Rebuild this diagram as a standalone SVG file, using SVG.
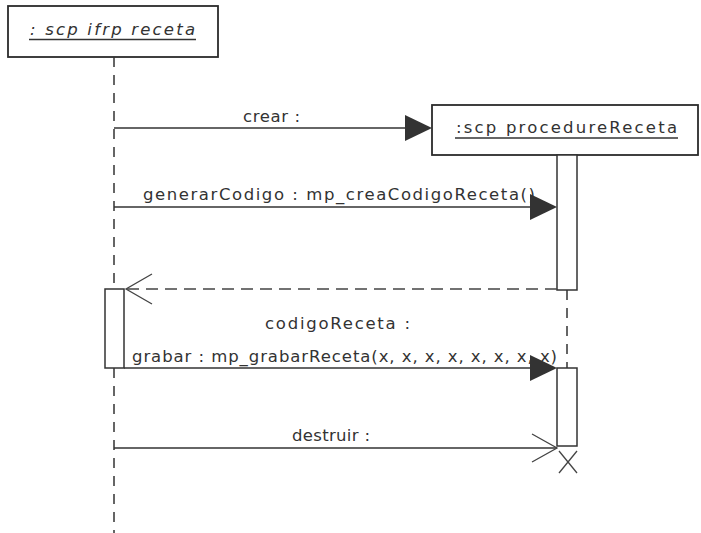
<svg xmlns="http://www.w3.org/2000/svg" width="701" height="533" viewBox="0 0 701 533">
<style>
.box{fill:#fff;stroke:#2b2b2b;stroke-width:1.8}
.act{fill:#fff;stroke:#333;stroke-width:1.5}
.life{stroke:#333;stroke-width:1.5;stroke-dasharray:10 8;fill:none}
.msg{stroke:#333;stroke-width:1.5;fill:none}
.ret{stroke:#444;stroke-width:1.5;stroke-dasharray:12 7;fill:none}
.open{stroke:#444;stroke-width:1.3;fill:none}
.head{fill:#333;stroke:none}
.t{font-family:"DejaVu Sans","Liberation Sans",Arial,sans-serif;font-size:16.5px;fill:#333}
.ul{stroke:#333;stroke-width:1.3}
</style>
<rect width="701" height="533" fill="#fff"/>
<g id="node-ifrp">
<rect class="box" x="8" y="6" width="210" height="51"/>
<text class="t" x="30" y="35" font-style="italic" textLength="165" lengthAdjust="spacing">: scp  ifrp  receta</text>
<line class="ul" x1="29" y1="39.5" x2="196" y2="39.5"/>
</g>
<g id="node-procedure">
<rect class="box" x="432" y="105" width="266" height="50"/>
<text class="t" x="456" y="133" textLength="221" lengthAdjust="spacing">:scp  procedureReceta</text>
<line class="ul" x1="455" y1="138" x2="678" y2="138"/>
</g>
<g id="lifelines">
<line class="life" x1="114" y1="57" x2="114" y2="289"/>
<line class="life" x1="114" y1="368" x2="114" y2="533"/>
<line class="life" x1="567" y1="290" x2="567" y2="368"/>
</g>
<g id="activations">
<rect class="act" x="105" y="289" width="19" height="79"/>
<rect class="act" x="557" y="155" width="20" height="135"/>
<rect class="act" x="557" y="368" width="20" height="78"/>
</g>
<g id="connectors">
<line class="msg" x1="114" y1="128" x2="410" y2="128"/>
<polygon class="head" points="405,115 432,128 405,141"/>
<text class="t" x="243" y="122" textLength="57" lengthAdjust="spacing">crear :</text>

<line class="msg" x1="114" y1="207" x2="535" y2="207"/>
<polygon class="head" points="530,194 557,207 530,220"/>
<text class="t" x="143" y="200" textLength="392" lengthAdjust="spacing">generarCodigo : mp_creaCodigoReceta()</text>

<line class="ret" x1="557" y1="289" x2="126" y2="289"/>
<polyline class="open" points="152,274 126,289 152,304"/>
<text class="t" x="265" y="329" textLength="145" lengthAdjust="spacing">codigoReceta :</text>

<line class="msg" x1="124" y1="368" x2="535" y2="368"/>
<polygon class="head" points="530,355 557,368 530,381"/>
<text class="t" x="132" y="362" textLength="425" lengthAdjust="spacing">grabar : mp_grabarReceta(x, x, x, x, x, x, x, x)</text>

<line class="msg" x1="114" y1="448" x2="557" y2="448"/>
<polyline class="open" points="532,434 557,448 532,462"/>
<text class="t" x="292" y="441" textLength="78" lengthAdjust="spacing">destruir :</text>

<line class="open" x1="559" y1="451" x2="577" y2="473"/>
<line class="open" x1="577" y1="451" x2="559" y2="473"/>
</g>
</svg>
